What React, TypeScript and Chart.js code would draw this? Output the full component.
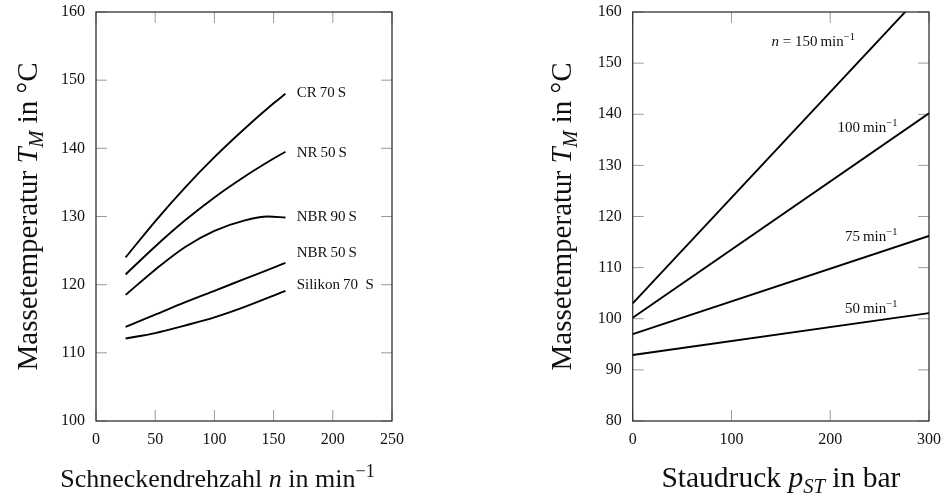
import { useEffect, useRef } from 'react';
import { Chart, registerables } from 'chart.js';

Chart.register(...registerables);

const FONT = '"Liberation Serif", "Times New Roman", serif';

// ---------- Left panel: Massetemperatur vs. Schneckendrehzahl ----------
const speedN = [25, 50, 75, 100, 125, 150, 160];
const cr70s = [124.0, 129.3, 134.2, 138.7, 142.8, 146.6, 148.0];
const nr50s = [121.5, 125.6, 129.4, 132.8, 135.8, 138.5, 139.5];
const nbr50s = [113.8, 115.6, 117.4, 119.1, 120.8, 122.5, 123.2];
const silikon70s = [112.1, 112.9, 114.0, 115.2, 116.7, 118.4, 119.1];
const speedNbr90 = [25, 50, 75, 100, 125, 145, 160];
const nbr90s = [118.5, 122.2, 125.5, 127.9, 129.4, 130.0, 129.85];
const leftSeriesNames = ['CR 70 S', 'NR 50 S', 'NBR 90 S', 'NBR 50 S', 'Silikon 70 S'];

// ---------- Right panel: Massetemperatur vs. Staudruck ----------
const pressure = [0, 300];
const n150 = [103.0, 165.0];
const n100 = [100.2, 140.2];
const n75 = [97.0, 116.2];
const n50 = [92.9, 101.1];
const rightSeriesNames = ['n = 150', '100', '75', '50'];

type Seg = { t: string; it?: boolean; sub?: boolean; sup?: boolean };

function segFont(s: Seg, size: number) {
  const sz = s.sub || s.sup ? size * 0.7 : size;
  return `${s.it ? 'italic ' : ''}${sz}px ${FONT}`;
}
function measureRich(ctx: CanvasRenderingContext2D, segs: Seg[], size: number) {
  let w = 0;
  for (const s of segs) {
    ctx.font = segFont(s, size);
    w += ctx.measureText(s.t).width;
  }
  return w;
}
function drawRich(
  ctx: CanvasRenderingContext2D,
  segs: Seg[],
  x: number,
  y: number,
  size: number,
  align: 'left' | 'center' | 'right'
) {
  const w = measureRich(ctx, segs, size);
  let cx = align === 'left' ? x : align === 'center' ? x - w / 2 : x - w;
  ctx.textAlign = 'left';
  ctx.textBaseline = 'alphabetic';
  for (const s of segs) {
    ctx.font = segFont(s, size);
    const dy = s.sub ? size * 0.22 : s.sup ? -size * 0.4 : 0;
    ctx.fillText(s.t, cx, y + dy);
    cx += ctx.measureText(s.t).width;
  }
}

type Note = { segs: Seg[]; x: number; y: number; align: 'left' | 'right' };
type PanelCfg = {
  id: string;
  yTitle: Seg[];
  xTitle: Seg[];
  yTitleSize: number;
  xTitleSize: number;
  yTitleGap: number;
  xTitleCenterOffset: number | null;
  xTitleGap: number;
  notes: Note[];
  noteSize: number;
};

function panelPlugin(cfg: PanelCfg) {
  return {
    id: 'panel-' + cfg.id,
    beforeDatasetsDraw(chart: any) {
      const { ctx, chartArea: a, scales } = chart;
      const xs = scales.x;
      const ys = scales.y;
      ctx.save();
      ctx.strokeStyle = '#9c9c9c';
      ctx.lineWidth = 1;
      ctx.beginPath();
      for (const t of xs.ticks) {
        const px = xs.getPixelForValue(t.value);
        ctx.moveTo(px, a.bottom);
        ctx.lineTo(px, a.bottom - 11);
        ctx.moveTo(px, a.top);
        ctx.lineTo(px, a.top + 11);
      }
      for (const t of ys.ticks) {
        const py = ys.getPixelForValue(t.value);
        ctx.moveTo(a.left, py);
        ctx.lineTo(a.left + 11, py);
        ctx.moveTo(a.right, py);
        ctx.lineTo(a.right - 11, py);
      }
      ctx.stroke();
      ctx.strokeStyle = '#333';
      ctx.lineWidth = 1.3;
      ctx.strokeRect(a.left, a.top, a.right - a.left, a.bottom - a.top);
      ctx.restore();
    },
    afterDatasetsDraw(chart: any) {
      const { ctx, chartArea: a, scales } = chart;
      const xs = scales.x;
      const ys = scales.y;
      ctx.save();
      ctx.fillStyle = '#111';
      for (const n of cfg.notes) {
        const px = xs.getPixelForValue(n.x);
        const py = ys.getPixelForValue(n.y) + cfg.noteSize * 0.33;
        drawRich(ctx, n.segs, px, py, cfg.noteSize, n.align);
      }
      ctx.save();
      ctx.translate(a.left - cfg.yTitleGap, (a.top + a.bottom) / 2);
      ctx.rotate(-Math.PI / 2);
      drawRich(ctx, cfg.yTitle, 0, 0, cfg.yTitleSize, 'center');
      ctx.restore();
      const cx =
        cfg.xTitleCenterOffset === null ? (a.left + a.right) / 2 : a.left + cfg.xTitleCenterOffset;
      drawRich(ctx, cfg.xTitle, cx, a.bottom + cfg.xTitleGap, cfg.xTitleSize, 'center');
      ctx.restore();
    },
  };
}

function fixAxis(kind: 'x' | 'y', size: number) {
  return (s: any) => {
    if (kind === 'y') s.width = size;
    else s.height = size;
    s.paddingTop = 0;
    s.paddingBottom = 0;
    s.paddingLeft = 0;
    s.paddingRight = 0;
  };
}

function makeOptions(
  xmin: number,
  xmax: number,
  xstep: number,
  ymin: number,
  ymax: number,
  ystep: number,
  padding: any
) {
  const tickFont = { family: FONT, size: 16 };
  return {
    responsive: false,
    animation: false as const,
    layout: { padding },
    plugins: { legend: { display: false }, tooltip: { enabled: false }, title: { display: false } },
    scales: {
      x: {
        type: 'linear' as const,
        min: xmin,
        max: xmax,
        grid: { display: false, drawTicks: false, tickLength: 0 },
        border: { display: false },
        ticks: { stepSize: xstep, font: tickFont, color: '#111', padding: 9, maxRotation: 0 },
        afterFit: fixAxis('x', 40),
      },
      y: {
        type: 'linear' as const,
        min: ymin,
        max: ymax,
        grid: { display: false, drawTicks: false, tickLength: 0 },
        border: { display: false },
        ticks: { stepSize: ystep, font: tickFont, color: '#111', padding: 11 },
        afterFit: fixAxis('y', 50),
      },
    },
  };
}

const lineStyle = {
  borderColor: '#000',
  borderWidth: 1.9,
  pointRadius: 0,
  fill: false,
};

export default function App() {
  const leftRef = useRef<HTMLCanvasElement>(null);
  const rightRef = useRef<HTMLCanvasElement>(null);

  useEffect(() => {
    const leftSeries = [
      { xs: speedN, ys: cr70s },
      { xs: speedN, ys: nr50s },
      { xs: speedNbr90, ys: nbr90s },
      { xs: speedN, ys: nbr50s },
      { xs: speedN, ys: silikon70s },
    ];
    const leftChart = new Chart(leftRef.current!, {
      type: 'line',
      data: {
        datasets: leftSeries.map((s, i) => ({
          label: leftSeriesNames[i],
          data: s.xs.map((x, j) => ({ x, y: s.ys[j] })),
          ...lineStyle,
          cubicInterpolationMode: 'monotone' as const,
        })),
      },
      options: makeOptions(0, 250, 50, 100, 160, 10, { left: 46, top: 12, right: 88, bottom: 33 }) as any,
      plugins: [
        panelPlugin({
          id: 'left',
          yTitle: [{ t: 'Massetemperatur ' }, { t: 'T', it: true }, { t: 'M', it: true, sub: true }, { t: ' in °C' }],
          xTitle: [{ t: 'Schneckendrehzahl ' }, { t: 'n', it: true }, { t: ' in min' }, { t: '\u22121', sup: true }],
          yTitleSize: 29,
          xTitleSize: 26,
          yTitleGap: 59,
          xTitleCenterOffset: 121.5,
          xTitleGap: 66,
          noteSize: 15,
          notes: [
            { segs: [{ t: 'CR\u200970\u2009S' }], x: 169.5, y: 148.2, align: 'left' },
            { segs: [{ t: 'NR\u200950\u2009S' }], x: 169.5, y: 139.5, align: 'left' },
            { segs: [{ t: 'NBR\u200990\u2009S' }], x: 169.5, y: 130.0, align: 'left' },
            { segs: [{ t: 'NBR\u200950\u2009S' }], x: 169.5, y: 124.8, align: 'left' },
            { segs: [{ t: 'Silikon\u200970\u2002S' }], x: 169.5, y: 120.1, align: 'left' },
          ],
        }),
      ],
    });

    const rightSeries = [n150, n100, n75, n50];
    const rightChart = new Chart(rightRef.current!, {
      type: 'line',
      data: {
        datasets: rightSeries.map((vals, i) => ({
          label: rightSeriesNames[i],
          data: pressure.map((x, j) => ({ x, y: vals[j] })),
          ...lineStyle,
          tension: 0,
        })),
      },
      options: makeOptions(0, 300, 100, 80, 160, 10, { left: 102.7, top: 12, right: 13, bottom: 33 }) as any,
      plugins: [
        panelPlugin({
          id: 'right',
          yTitle: [{ t: 'Massetemperatur ' }, { t: 'T', it: true }, { t: 'M', it: true, sub: true }, { t: ' in °C' }],
          xTitle: [{ t: 'Staudruck ' }, { t: 'p', it: true }, { t: 'ST', it: true, sub: true }, { t: ' in bar' }],
          yTitleSize: 29,
          xTitleSize: 29.5,
          yTitleGap: 62,
          xTitleCenterOffset: null,
          xTitleGap: 66,
          noteSize: 15,
          notes: [
            { segs: [{ t: 'n', it: true }, { t: ' = 150\u2009min' }, { t: '\u22121', sup: true }], x: 225, y: 154.4, align: 'right' },
            { segs: [{ t: '100\u2009min' }, { t: '\u22121', sup: true }], x: 268, y: 137.5, align: 'right' },
            { segs: [{ t: '75\u2009min' }, { t: '\u22121', sup: true }], x: 268, y: 116.2, align: 'right' },
            { segs: [{ t: '50\u2009min' }, { t: '\u22121', sup: true }], x: 268, y: 102.1, align: 'right' },
          ],
        }),
      ],
    });

    return () => {
      leftChart.destroy();
      rightChart.destroy();
    };
  }, []);

  return (
    <div style={{ position: 'fixed', left: 0, top: 0, width: 942, height: 494, background: '#fff' }}>
      <canvas ref={leftRef} width={480} height={494} style={{ position: 'absolute', left: 0, top: 0 }} />
      <canvas ref={rightRef} width={462} height={494} style={{ position: 'absolute', left: 480, top: 0 }} />
    </div>
  );
}
